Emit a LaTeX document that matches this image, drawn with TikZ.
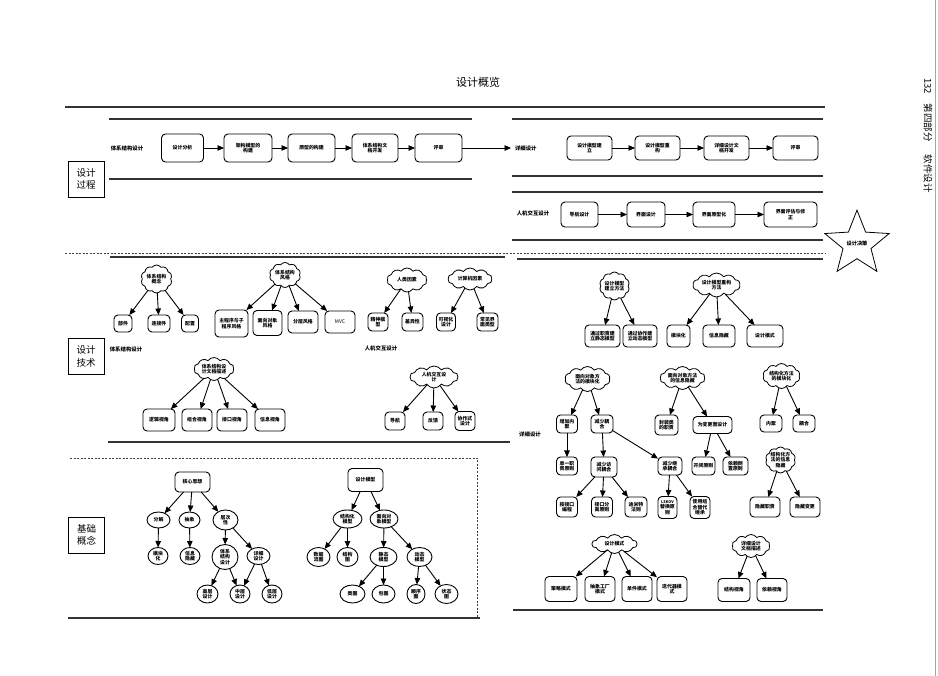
\documentclass[tikz,border=0pt]{standalone}
\usepackage{fontspec}
\setmainfont{Noto Sans CJK SC}
\usetikzlibrary{shapes.geometric,shapes.symbols,arrows.meta}
\begin{document}
\begin{tikzpicture}[x=1pt,y=-1pt,
  every node/.style={inner sep=0pt, outer sep=0pt},
  boxtxt/.style={font=\fontsize{4.9}{5.6}\selectfont\bfseries, align=center},
  rbox/.style={boxtxt, draw, line width=0.9pt, rounded corners=4pt},
  sz/.style 2 args={minimum width=#1pt, minimum height=#2pt},
  idea/.style={boxtxt, draw, line width=0.8pt, cloud, cloud puffs=10, cloud puff arc=110, cloud ignores aspect},
  oval/.style={boxtxt, draw, line width=0.9pt, ellipse},
  arr/.style={line width=0.9pt, -{Triangle[length=6.5pt,width=5.5pt]}},
  sep/.style={line width=1.1pt, black!80},
  dotsep/.style={line width=0.8pt, black!75, dash pattern=on 2pt off 1.5pt},
  lbl/.style={font=\fontsize{5.4}{6.2}\selectfont\bfseries},
  catbox/.style={draw, line width=0.8pt, minimum width=36pt, minimum height=36pt, align=center, font=\fontsize{9.5}{12.5}\selectfont},
]
\useasboundingbox (0,0) rectangle (938,676);
\fill[white] (0,0) rectangle (938,676);

% page edge and running head
\draw[black!35, line width=0.6pt] (935,0) -- (935,676);
\node[rotate=-90, font=\fontsize{9.5}{11}\selectfont] (runhead) at (928,135.5) {132\hspace{1em}第四部分\hspace{1.4em}软件设计};

% title
\node[font=\fontsize{11}{13}\selectfont] (title) at (478,82) {设计概览};

% separating rules
\draw[sep] (65,107) -- (825,107);
\draw[sep] (109,119) -- (472,119);
\draw[sep] (109,179) -- (472,179);
\draw[sep] (512,119) -- (823,119);
\draw[sep] (512,176) -- (823,176);
\draw[sep] (512,192) -- (823,192);
\draw[sep] (512,240) -- (823,240);
\draw[dotsep] (65,253) -- (825,253);
\draw[sep] (110,257) -- (505,257);
\draw[sep] (517,259) -- (823,259);
\draw[sep] (108,442) -- (510,442);
\draw[dotsep] (70,458) -- (477,458) -- (477,618);
\draw[sep] (68,618) -- (480,618);
\draw[sep] (513,610) -- (823,610);

% category boxes
\node[catbox] (catproc) at (86,179) {设计\\过程};
\node[catbox] (cattech) at (86,356.5) {设计\\技术};
\node[catbox] (catbase) at (86.5,535) {基础\\概念};

% ---- design process: architecture ----
\node[lbl] (archlbl) at (127,148) {体系结构设计};
\node[rbox, sz={42}{28}] (a1) at (182.5,148) {设计分析};
\node[rbox, sz={48}{28}] (a2) at (248,148) {架构模型的\\构建};
\node[rbox, sz={47}{28}] (a3) at (311.5,148) {原型的构建};
\node[rbox, sz={46}{28}] (a4) at (375,148) {体系结构文\\档开发};
\node[rbox, sz={47}{28}] (a5) at (438.5,148) {评审};
\draw[arr] (a1) -- (a2);
\draw[arr] (a2) -- (a3);
\draw[arr] (a3) -- (a4);
\draw[arr] (a4) -- (a5);
\node[lbl, anchor=west] (detlbl) at (515,148) {详细设计};
\draw[arr, shorten >=4pt] (a5) -- (detlbl);

% ---- design process: detailed ----
\node[rbox, sz={45}{24}] (d1) at (589.5,148) {设计模型建\\立};
\node[rbox, sz={45}{24}] (d2) at (657.5,148) {设计模型重\\构};
\node[rbox, sz={45}{24}] (d3) at (726.5,148) {详细设计文\\档开发};
\node[rbox, sz={45}{24}] (d4) at (795.5,148) {评审};
\draw[arr] (d1) -- (d2);
\draw[arr] (d2) -- (d3);
\draw[arr] (d3) -- (d4);

% ---- design process: HCI ----
\node[lbl] (hcilbl) at (533,213) {人机交互设计};
\node[rbox, sz={37}{25}] (h1) at (579.5,214.5) {导航设计};
\node[rbox, sz={38}{25}] (h2) at (646,214.5) {界面设计};
\node[rbox, sz={42}{25}] (h3) at (714,214.5) {界面原型化};
\node[rbox, sz={53}{25}] (h4) at (790.5,214.5) {界面评估与修\\正};
\draw[arr] (h1) -- (h2);
\draw[arr] (h2) -- (h3);
\draw[arr] (h3) -- (h4);

% design decision star
\node[draw, star, star points=5, star point ratio=2.3, minimum size=60pt, line width=0.8pt,
      font=\fontsize{5.2}{6}\selectfont\bfseries] (decision) at (857,244) {设计决策};

% ---- design techniques: architecture ----
\node[idea, sz={31}{28}] (c1) at (156.5,279) {体系结构\\概念};
\node[rbox, sz={18}{17}] (c1a) at (123,323.5) {部件};
\node[rbox, sz={22}{17}] (c1b) at (159,323.5) {连接件};
\node[rbox, sz={17}{17}] (c1c) at (190,323.5) {配置};
\foreach \t in {c1a,c1b,c1c} \draw[arr] (c1) -- (\t);

\node[idea, sz={31}{25}] (c2) at (285,275) {体系结构\\风格};
\node[rbox, sz={33}{27}] (c2a) at (231.5,323.5) {主程序与子\\程序风格};
\node[rbox, sz={29}{25}] (c2b) at (267.5,323) {面向对象\\风格};
\node[rbox, sz={30}{22}] (c2c) at (303,322) {分层风格};
\node[rbox, sz={30}{22}, font=\fontsize{5}{6}\selectfont] (c2d) at (340,322) {MVC};
\foreach \t in {c2a,c2b,c2c,c2d} \draw[arr] (c2) -- (\t);

\node[lbl] (archlbl2) at (126,349) {体系结构设计};

\node[idea, sz={40}{23}] (c3) at (214,369) {体系结构设\\计文档描述};
\node[rbox, sz={32}{22}] (c3a) at (159,420) {逻辑视角};
\node[rbox, sz={30}{22}] (c3b) at (197,420) {组合视角};
\node[rbox, sz={30}{22}] (c3c) at (232,420) {接口视角};
\node[rbox, sz={30}{22}] (c3d) at (270,420) {信息视角};
\foreach \t in {c3a,c3b,c3c,c3d} \draw[arr] (c3) -- (\t);

% ---- design techniques: HCI ----
\node[idea, sz={40}{24}] (u1) at (407,280) {人类因素};
\node[rbox, sz={20}{18}] (u1a) at (378,322) {精神模\\型};
\node[rbox, sz={21}{18}] (u1b) at (412.5,322) {差异性};
\foreach \t in {u1a,u1b} \draw[arr] (u1) -- (\t);

\node[idea, sz={44}{22}] (u2) at (470,279) {计算机因素};
\node[rbox, sz={19}{18}] (u2a) at (446,322) {可视化\\设计};
\node[rbox, sz={21}{18}] (u2b) at (487.5,322) {常见界\\面类型};
\foreach \t in {u2a,u2b} \draw[arr] (u2) -- (\t);

\node[lbl] (hcilbl2) at (381,348) {人机交互设计};

\node[idea, sz={48}{22}] (u3) at (434,377) {人机交互设\\计};
\node[rbox, sz={20}{18}] (u3a) at (395,421) {导航};
\node[rbox, sz={20}{18}] (u3b) at (433,421) {反馈};
\node[rbox, sz={20}{19}] (u3c) at (465,421) {协作式\\设计};
\foreach \t in {u3a,u3b,u3c} \draw[arr] (u3) -- (\t);

% ---- design techniques: detailed design ----
\node[lbl] (detlbl2) at (530,434) {详细设计};

\node[idea, sz={30}{28}] (m1) at (614.5,286) {设计模型\\建立方法};
\node[rbox, sz={35}{22}] (m1a) at (602.5,336) {通过职责建\\立静态模型};
\node[rbox, sz={34}{22}] (m1b) at (640,336) {通过协作建\\立动态模型};
\foreach \t in {m1a,m1b} \draw[arr] (m1) -- (\t);

\node[idea, sz={47}{24}] (m2) at (716.5,285) {设计模型重构\\方法};
\node[rbox, sz={23}{22}] (m2a) at (678.5,336) {模块化};
\node[rbox, sz={32}{22}] (m2b) at (719,336) {信息隐藏};
\node[rbox, sz={36}{22}] (m2c) at (765,336) {设计模式};
\foreach \t in {m2a,m2b,m2c} \draw[arr] (m2) -- (\t);

\node[idea, sz={45}{25}] (o1) at (587.5,379) {面向对象方\\法的模块化};
\node[rbox, sz={21}{18}] (o1a) at (567,424) {增加内\\聚};
\node[rbox, sz={22}{18}] (o1b) at (602,424) {减少耦\\合};
\draw[arr] (o1) -- (o1a);
\draw[arr] (o1) -- (o1b);
\node[rbox, sz={21}{18}] (o2a) at (567,466) {单一职\\责原则};
\node[rbox, sz={26}{20}] (o2b) at (604,467) {减少访\\问耦合};
\node[rbox, sz={24}{18}] (o2c) at (670,466) {减少继\\承耦合};
\draw[arr] (o1a) -- (o2a);
\draw[arr] (o1b) -- (o2b);
\draw[arr] (o1b) -- (o2c);
\node[rbox, sz={21}{20}] (o3a) at (567,507) {按接口\\编程};
\node[rbox, sz={21}{20}] (o3b) at (602,507) {接口分\\离原则};
\node[rbox, sz={22}{20}] (o3c) at (636,507) {迪米特\\法则};
\node[rbox, sz={19}{22}] (o3d) at (667.5,507.5) {{\fontsize{3.8}{4.6}\selectfont LSKOV}\\替换原\\则};
\node[rbox, sz={20}{22}] (o3e) at (700,507.5) {使用组\\合替代\\继承};
\foreach \t in {o3a,o3b,o3c} \draw[arr] (o2b) -- (\t);
\foreach \t in {o3d,o3e} \draw[arr] (o2c) -- (\t);

\node[idea, sz={45}{23}] (i1) at (682.5,378) {面向对象方法\\的信息隐藏};
\node[rbox, sz={23}{20}] (i1a) at (666.5,425) {封装类\\的职责};
\node[rbox, sz={39}{17}] (i1b) at (712.5,425) {为变更而设计};
\draw[arr] (i1) -- (i1a);
\draw[arr] (i1) -- (i1b);
\node[rbox, sz={23}{18}] (i2a) at (703.5,466) {开闭原则};
\node[rbox, sz={25}{18}] (i2b) at (735.5,466) {依赖倒\\置原则};
\draw[arr] (i1b) -- (i2a);
\draw[arr] (i1b) -- (i2b);

\node[idea, sz={37}{25}] (s1) at (781.5,376) {结构化方法\\的模块化};
\node[rbox, sz={22}{17}] (s1a) at (771,423.5) {内聚};
\node[rbox, sz={22}{17}] (s1b) at (804,423.5) {耦合};
\draw[arr] (s1) -- (s1a);
\draw[arr] (s1) -- (s1b);

\node[idea, sz={26}{26}] (s2) at (780.5,460) {结构化方\\法的信息\\隐藏};
\node[rbox, sz={30}{20}] (s2a) at (765,507) {隐藏职责};
\node[rbox, sz={30}{20}] (s2b) at (805,507) {隐藏变更};
\draw[arr] (s2) -- (s2a);
\draw[arr] (s2) -- (s2b);

\node[idea, sz={45}{19}] (p1) at (614.5,544) {设计模式};
\node[rbox, sz={32}{25}] (p1a) at (561,589) {策略模式};
\node[rbox, sz={30}{25}] (p1b) at (600,589) {抽象工厂\\模式};
\node[rbox, sz={30}{25}] (p1c) at (637,589) {单件模式};
\node[rbox, sz={30}{25}] (p1d) at (672,589) {迭代器模\\式};
\foreach \t in {p1a,p1b,p1c,p1d} \draw[arr] (p1) -- (\t);

\node[idea, sz={38}{23}] (q1) at (751,546) {详细设计\\文档描述};
\node[rbox, sz={32}{23}] (q1a) at (734,590) {结构视角};
\node[rbox, sz={30}{23}] (q1b) at (772,590) {依赖视角};
\draw[arr] (q1) -- (q1a);
\draw[arr] (q1) -- (q1b);

% ---- basic concepts: core ideas ----
\node[rbox, sz={35}{20}] (k0) at (192.5,482) {核心思想};
\node[oval, sz={23}{16}] (k1) at (158.5,520) {分解};
\node[oval, sz={21}{16}] (k2) at (189.5,520) {抽象};
\node[oval, sz={25}{20}] (k3) at (225.5,520) {层次\\性};
\foreach \t in {k1,k2,k3} \draw[arr] (k0) -- (\t);
\node[oval, sz={20}{17}] (k4) at (158,556) {模块\\化};
\node[oval, sz={20}{17}] (k5) at (190,556) {信息\\隐藏};
\node[oval, sz={26}{25}] (k6) at (225,557) {体系\\结构\\设计};
\node[oval, sz={23}{17}] (k7) at (258.5,556) {详细\\设计};
\draw[arr] (k1) -- (k4);
\draw[arr] (k2) -- (k5);
\draw[arr] (k3) -- (k6);
\draw[arr] (k3) -- (k7);
\node[oval, sz={21}{18}] (k8) at (207.5,594) {高层\\设计};
\node[oval, sz={20}{18}] (k9) at (240,594) {中层\\设计};
\node[oval, sz={20}{18}] (k10) at (272,594) {低层\\设计};
\draw[arr] (k6) -- (k8);
\draw[arr] (k6) -- (k9);
\draw[arr] (k7) -- (k9);
\draw[arr] (k7) -- (k10);

% ---- basic concepts: design models ----
\node[rbox, sz={35}{23}] (g0) at (365.5,480) {设计模型};
\node[oval, sz={29}{18}] (g1) at (347.5,519) {结构化\\模型};
\node[oval, sz={28}{18}] (g2) at (384,519) {面向对\\象模型};
\draw[arr] (g0) -- (g1);
\draw[arr] (g0) -- (g2);
\node[oval, sz={23}{19}] (g3) at (318.5,557) {数据\\流图};
\node[oval, sz={21}{19}] (g4) at (347.5,557) {结构\\图};
\node[oval, sz={27}{19}] (g5) at (383.5,557) {静态\\模型};
\node[oval, sz={25}{19}] (g6) at (419.5,557) {动态\\模型};
\draw[arr] (g1) -- (g3);
\draw[arr] (g1) -- (g4);
\draw[arr] (g2) -- (g5);
\draw[arr] (g2) -- (g6);
\node[oval, sz={25}{18}] (g7) at (352.5,594) {类图};
\node[oval, sz={23}{18}] (g8) at (383.5,594) {包图};
\node[oval, sz={18}{19}] (g9) at (416,594) {顺序\\图};
\node[oval, sz={23}{19}] (g10) at (446.5,594) {状态\\图};
\draw[arr] (g5) -- (g7);
\draw[arr] (g5) -- (g8);
\draw[arr] (g6) -- (g9);
\draw[arr] (g6) -- (g10);
\end{tikzpicture}
\end{document}
